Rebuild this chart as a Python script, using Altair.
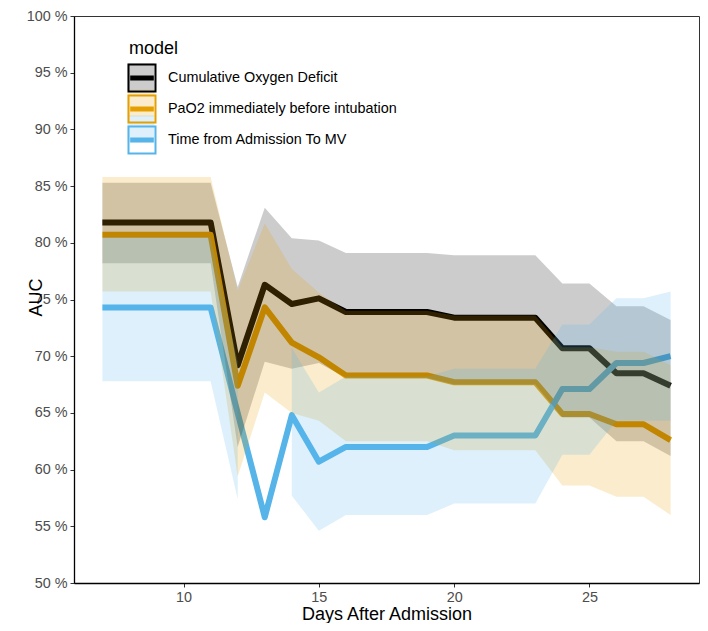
import altair as alt
import pandas as pd

days = [7, 8, 9, 10, 11, 12, 13, 14, 15, 16, 17, 18, 19, 20, 21, 22, 23, 24, 25, 26, 27, 28]

models = ["Cumulative Oxygen Deficit", "PaO2 immediately before intubation", "Time from Admission To MV"]
colors = ["#000000", "#E69F00", "#56B4E9"]

cod_auc = [81.8, 81.8, 81.8, 81.8, 81.8, 69.2, 76.3, 74.6, 75.1, 73.9, 73.9, 73.9, 73.9, 73.4, 73.4, 73.4, 73.4, 70.7, 70.7, 68.5, 68.5, 67.4]
cod_lo = [78.2, 78.2, 78.2, 78.2, 78.2, 62.0, 69.5, 68.9, 69.4, 68.1, 68.1, 68.1, 68.1, 67.5, 67.5, 67.5, 67.5, 64.6, 64.6, 62.5, 62.5, 61.2]
cod_hi = [85.3, 85.3, 85.3, 85.3, 85.3, 76.1, 83.1, 80.4, 80.2, 79.1, 79.1, 79.1, 79.1, 78.9, 78.9, 78.9, 78.9, 76.4, 76.4, 74.4, 74.4, 73.2]

pao2_auc = [80.7, 80.7, 80.7, 80.7, 80.7, 67.4, 74.3, 71.2, 69.9, 68.3, 68.3, 68.3, 68.3, 67.7, 67.7, 67.7, 67.7, 64.9, 64.9, 64.0, 64.0, 62.6]
pao2_lo = [75.7, 75.7, 75.7, 75.7, 75.7, 59.4, 66.8, 65.0, 64.3, 62.5, 62.5, 62.5, 62.5, 61.7, 61.7, 61.7, 61.7, 58.6, 58.6, 57.6, 57.6, 56.0]
pao2_hi = [85.8, 85.8, 85.8, 85.8, 85.8, 75.8, 81.7, 77.7, 75.6, 74.0, 74.0, 74.0, 74.0, 73.6, 73.6, 73.6, 73.6, 70.8, 70.8, 70.4, 70.4, 69.2]

mv_auc = [74.3, 74.3, 74.3, 74.3, 74.3, 65.0, 55.8, 64.8, 60.7, 62.0, 62.0, 62.0, 62.0, 63.0, 63.0, 63.0, 63.0, 67.1, 67.1, 69.4, 69.4, 70.0]
mv_lo = [67.8, 67.8, 67.8, 67.8, 67.8, 57.4, None, 57.7, 54.6, 56.0, 56.0, 56.0, 56.0, 57.0, 57.0, 57.0, 57.0, 61.3, 61.3, 64.3, 64.3, 64.3]
mv_hi = [80.5, 80.5, 80.5, 80.5, 80.5, 69.5, None, 70.7, 66.8, 68.2, 68.2, 68.2, 68.2, 68.9, 68.9, 68.9, 68.9, 72.8, 72.8, 75.1, 75.1, 75.7]

y_ticks = [50, 55, 60, 65, 70, 75, 80, 85, 90, 95, 100]
x_ticks = [10, 15, 20, 25]

series = [(models[0], cod_auc, cod_lo, cod_hi),
          (models[1], pao2_auc, pao2_lo, pao2_hi),
          (models[2], mv_auc, mv_lo, mv_hi)]
rows = []
for name, auc, lo, hi in series:
    seg = 0
    for d, a, l, h in zip(days, auc, lo, hi):
        if l is None:
            seg += 1
        rows.append({"day": d, "model": name, "band": name, "auc": a, "lo": l, "hi": h,
                     "seg": f"{name}-{seg}"})
df = pd.DataFrame(rows)

FONT = "Liberation Sans"
LEG_X = 55
LEG_Y = 24

common_leg = dict(
    title="model",
    orient="none",
    legendX=LEG_X,
    legendY=LEG_Y,
    titleFontSize=18,
    titleFont=FONT,
    titleFontWeight="normal",
    titlePadding=7,
    labelFontSize=14.4,
    labelFont=FONT,
    labelOffset=13,
    labelLimit=400,
    rowPadding=-6,
    symbolSize=576,
)

# legend drawing the ribbon fill (under)
legend_fill = alt.Legend(
    **common_leg,
    titleColor="transparent",
    labelExpr="''",
    symbolType="M-1.125,-1.125H1.125V1.125H-1.125Z",
    symbolOpacity=0.2,
    symbolStrokeWidth=0,
    symbolStrokeColor="transparent",
    zindex=1,
)
# legend drawing the line and border (over)
legend_line = alt.Legend(
    **common_leg,
    titleColor="#000000",
    labelColor="#000000",
    symbolType=("M-1.125,-1.125H1.125V1.125H-1.125Z "
                "M-0.9,-0.135H0.9V-0.022H-0.9Z M-0.9,0.022H0.9V0.135H-0.9Z"),
    symbolStrokeWidth=2,
    symbolFillColor="transparent",
    symbolOpacity=1,
    zindex=2,
)

x_enc = alt.X(
    "day:Q",
    scale=alt.Scale(domain=[5.95, 29.05], nice=False, zero=False),
    axis=alt.Axis(values=x_ticks, title="Days After Admission", grid=False,
                  titleBaseline="alphabetic", titleY=36),
)
y_axis = alt.Axis(values=y_ticks, title="AUC", grid=False, labelExpr="datum.value + ' %'",
                  titleX=-33, titleY=281, titleAngle=270, titleAlign="center",
                  titleBaseline="alphabetic")
y_scale = alt.Scale(domain=[50, 100], nice=False, zero=False)

lines = alt.Chart(df).mark_line(strokeWidth=6, strokeCap="butt", strokeJoin="round").encode(
    x=x_enc,
    y=alt.Y("auc:Q", scale=y_scale, axis=y_axis),
    color=alt.Color("model:N", scale=alt.Scale(domain=models, range=colors), legend=legend_line),
    order=alt.Order("day:Q"),
)

ribbons = alt.Chart(df).transform_filter("isValid(datum.lo)").mark_area(fillOpacity=0.2).encode(
    x=x_enc,
    y=alt.Y("lo:Q", scale=y_scale, axis=y_axis),
    y2="hi:Q",
    fill=alt.Fill("band:N", scale=alt.Scale(domain=models, range=colors), legend=legend_fill),
    detail="seg:N",
)

chart = alt.layer(lines, ribbons).resolve_legend(fill="independent", color="independent").properties(
    width=625,
    height=567,
    autosize=alt.AutoSizeParams(type="none"),
    padding={"left": 66, "top": 8, "right": 1, "bottom": 40},
    background="#ffffff",
).configure_view(
    stroke="#333333", strokeWidth=1
).configure_axis(
    domainColor="#000000",
    domainWidth=1.3,
    tickColor="#333333",
    tickSize=4,
    tickWidth=1,
    labelFont=FONT,
    labelFontSize=14.4,
    labelColor="#4D4D4D",
    labelPadding=3,
    titleFont=FONT,
    titleFontSize=18,
    titleFontWeight="normal",
    titleColor="#000000",
)

chart.save("out.html", embed_options={"renderer": "svg", "actions": False})
